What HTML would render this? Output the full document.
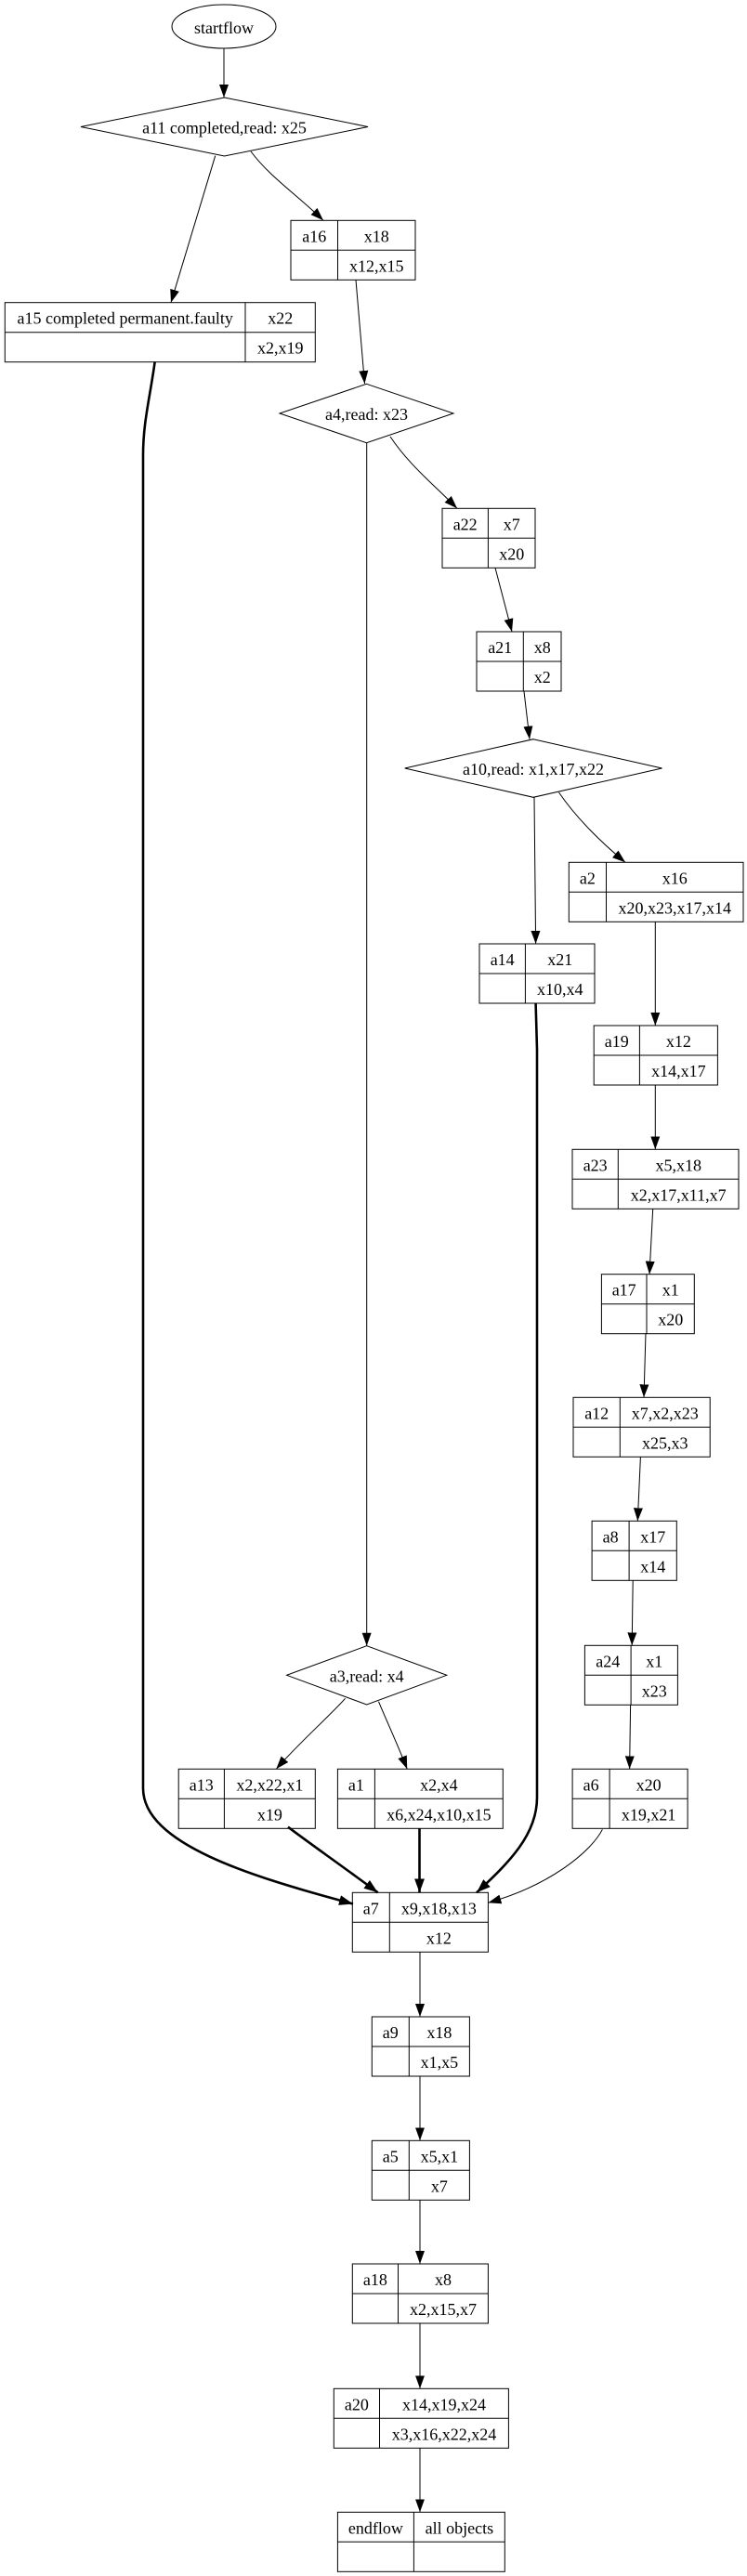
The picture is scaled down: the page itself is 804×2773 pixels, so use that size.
<!DOCTYPE html>
<html>
<head>
<meta charset="utf-8">
<style>
  html, body { margin: 0; padding: 0; background: #ffffff; }
  svg { display: block; }
  text { font-family: "Liberation Serif", "Times New Roman", serif; font-size: 18px; fill: #000; }
</style>
</head>
<body>
<svg xmlns="http://www.w3.org/2000/svg" width="804" height="2773" viewBox="0 0 804 2773">
  <defs>
    <marker id="ah" markerUnits="userSpaceOnUse" markerWidth="14" markerHeight="10" viewBox="0 0 14 10" refX="14" refY="5" orient="auto">
      <path d="M0,0 L14,5 L0,10 z" fill="#000"/>
    </marker>
    <marker id="ahb" markerUnits="userSpaceOnUse" markerWidth="15" markerHeight="11" viewBox="0 0 15 11" refX="15" refY="5.5" orient="auto">
      <path d="M0,0 L15,5.5 L0,11 z" fill="#000"/>
    </marker>
  </defs>
  <rect x="0" y="0" width="804" height="2773" fill="#fff"/>

  <!-- ===== Edges (thin) ===== -->
  <g fill="none" stroke="#000" stroke-width="1" marker-end="url(#ah)">
    <path d="M241,52 L241,105"/>
    <path d="M231.7,167.7 L184,325.7"/>
    <path d="M270,163 C290,190 320,210 348,237.3"/>
    <path d="M383,301.3 L392.5,413"/>
    <path d="M394.7,476.7 L394.7,1771.7"/>
    <path d="M420,470 C440,500 465,520 492,547.3"/>
    <path d="M533,611.3 L551,680"/>
    <path d="M564,744.3 L570,795.7"/>
    <path d="M575,858.3 L576.6,1016"/>
    <path d="M601.5,853 C620,880 645,905 673,928.3"/>
    <path d="M705.3,992.3 L705.3,1104"/>
    <path d="M705.3,1168.3 L705.3,1237.3"/>
    <path d="M702.7,1301.3 L699,1371.7"/>
    <path d="M695,1435 L693,1504.3"/>
    <path d="M689.4,1568.3 L686.3,1637.3"/>
    <path d="M681.2,1701.3 L680.2,1771.3"/>
    <path d="M678.6,1835.3 L677.6,1904.3"/>
    <path d="M371.6,1828.3 C356,1846 320,1878 297.3,1904.3"/>
    <path d="M407.5,1831.7 C415,1850 428,1878 438.2,1904.3"/>
    <path d="M648.4,1969.3 C635,1995 590,2030 525.4,2048.3"/>
    <path d="M452,2101.3 L452,2171"/>
    <path d="M452,2235.3 L452,2304.3"/>
    <path d="M452,2368.3 L452,2437"/>
    <path d="M452,2501.3 L452,2571.3"/>
    <path d="M452,2635.3 L452,2704.3"/>
  </g>

  <!-- ===== Edges (thick) ===== -->
  <g fill="none" stroke="#000" stroke-width="2.6" marker-end="url(#ahb)">
    <path d="M166.7,389.3 C161,430 154,455 154,490 L154,1925 C154,1985 270,2020 380,2049.5"/>
    <path d="M576.6,1080.3 L578,1130 L578,1935 C578,1975 548,2005 513,2037.3"/>
    <path d="M310,1966.7 C330,1982 370,2010 406.7,2037.3"/>
    <path d="M451.5,1968.3 L451.5,2037.3"/>
  </g>

  <!-- ===== startflow ===== -->
  <ellipse cx="241" cy="28.5" rx="56" ry="23.5" fill="none" stroke="#000" stroke-width="1"/>
  <text x="241" y="36" text-anchor="middle">startflow</text>

  <!-- ===== Diamonds ===== -->
  <g fill="#fff" stroke="#000" stroke-width="1">
    <polygon points="241.5,105 396,136.5 241.5,168 87,136.5"/>
    <polygon points="394.5,413.3 488,445 394.5,476.7 301,445"/>
    <polygon points="574,795.7 712.5,827 574,858.3 435.7,827"/>
    <polygon points="394.7,1771.7 480.8,1803.3 394.7,1835 308.6,1803.3"/>
  </g>
  <text x="241.5" y="143.5" text-anchor="middle">a11  completed,read: x25</text>
  <text x="394.5" y="452" text-anchor="middle">a4,read: x23</text>
  <text x="574" y="834" text-anchor="middle">a10,read: x1,x17,x22</text>
  <text x="394.7" y="1810.3" text-anchor="middle">a3,read: x4</text>

  <!-- ===== Record nodes ===== -->
  <g fill="none" stroke="#000" stroke-width="1">
    <!-- a16 -->
    <rect x="313" y="237.3" width="134" height="64"/><line x1="363.5" y1="237.3" x2="363.5" y2="301.3"/><line x1="313" y1="269.3" x2="447" y2="269.3"/>
    <!-- a15 -->
    <rect x="5.3" y="325.7" width="334" height="64"/><line x1="264" y1="325.7" x2="264" y2="389.7"/><line x1="5.3" y1="357.7" x2="339.3" y2="357.7"/>
    <!-- a22 -->
    <rect x="476" y="547.3" width="100" height="64"/><line x1="525.4" y1="547.3" x2="525.4" y2="611.3"/><line x1="476" y1="579.3" x2="576" y2="579.3"/>
    <!-- a21 -->
    <rect x="513" y="680" width="91" height="64"/><line x1="563.3" y1="680" x2="563.3" y2="744"/><line x1="513" y1="712" x2="604" y2="712"/>
    <!-- a2 -->
    <rect x="612.3" y="928.3" width="187.7" height="64"/><line x1="652.5" y1="928.3" x2="652.5" y2="992.3"/><line x1="612.3" y1="960.3" x2="800" y2="960.3"/>
    <!-- a14 -->
    <rect x="516" y="1016" width="124" height="64"/><line x1="565.4" y1="1016" x2="565.4" y2="1080"/><line x1="516" y1="1048" x2="640" y2="1048"/>
    <!-- a19 -->
    <rect x="639.2" y="1104" width="133.2" height="64"/><line x1="688.4" y1="1104" x2="688.4" y2="1168"/><line x1="639.2" y1="1136" x2="772.4" y2="1136"/>
    <!-- a23 -->
    <rect x="616" y="1237.3" width="179" height="64"/><line x1="665.3" y1="1237.3" x2="665.3" y2="1301.3"/><line x1="616" y1="1269.3" x2="795" y2="1269.3"/>
    <!-- a17 -->
    <rect x="647.4" y="1371.7" width="99.9" height="64"/><line x1="696" y1="1371.7" x2="696" y2="1435.7"/><line x1="647.4" y1="1403.7" x2="747.3" y2="1403.7"/>
    <!-- a12 -->
    <rect x="617" y="1504.3" width="147.2" height="64"/><line x1="667.3" y1="1504.3" x2="667.3" y2="1568.3"/><line x1="617" y1="1536.3" x2="764.2" y2="1536.3"/>
    <!-- a8 -->
    <rect x="637.1" y="1637.3" width="91.2" height="64"/><line x1="677.1" y1="1637.3" x2="677.1" y2="1701.3"/><line x1="637.1" y1="1669.3" x2="728.3" y2="1669.3"/>
    <!-- a24 -->
    <rect x="629.4" y="1771.3" width="100" height="64"/><line x1="679.1" y1="1771.3" x2="679.1" y2="1835.3"/><line x1="629.4" y1="1803.3" x2="729.4" y2="1803.3"/>
    <!-- a13 -->
    <rect x="192.2" y="1904.3" width="147.1" height="64"/><line x1="241.4" y1="1904.3" x2="241.4" y2="1968.3"/><line x1="192.2" y1="1936.3" x2="339.3" y2="1936.3"/>
    <!-- a1 -->
    <rect x="363.4" y="1904.3" width="177.9" height="64"/><line x1="403.4" y1="1904.3" x2="403.4" y2="1968.3"/><line x1="363.4" y1="1936.3" x2="541.3" y2="1936.3"/>
    <!-- a6 -->
    <rect x="616.1" y="1904.3" width="124" height="64"/><line x1="656.1" y1="1904.3" x2="656.1" y2="1968.3"/><line x1="616.1" y1="1936.3" x2="740.1" y2="1936.3"/>
    <!-- a7 -->
    <rect x="379.3" y="2037.3" width="146.1" height="64"/><line x1="419.3" y1="2037.3" x2="419.3" y2="2101.3"/><line x1="379.3" y1="2069.3" x2="525.4" y2="2069.3"/>
    <!-- a9 -->
    <rect x="400.3" y="2171" width="105.1" height="64"/><line x1="440.3" y1="2171" x2="440.3" y2="2235"/><line x1="400.3" y1="2203" x2="505.4" y2="2203"/>
    <!-- a5 -->
    <rect x="400.3" y="2304.3" width="105.1" height="64"/><line x1="440.3" y1="2304.3" x2="440.3" y2="2368.3"/><line x1="400.3" y1="2336.3" x2="505.4" y2="2336.3"/>
    <!-- a18 -->
    <rect x="379.3" y="2437" width="146.1" height="64"/><line x1="428.5" y1="2437" x2="428.5" y2="2501"/><line x1="379.3" y1="2469" x2="525.4" y2="2469"/>
    <!-- a20 -->
    <rect x="359.3" y="2571.3" width="188.1" height="64"/><line x1="408.5" y1="2571.3" x2="408.5" y2="2635.3"/><line x1="359.3" y1="2603.3" x2="547.4" y2="2603.3"/>
    <!-- endflow -->
    <rect x="363.4" y="2704.3" width="179.9" height="64"/><line x1="445.4" y1="2704.3" x2="445.4" y2="2768.3"/><line x1="363.4" y1="2736.3" x2="543.3" y2="2736.3"/>
  </g>

  <!-- ===== Record texts ===== -->
  <g text-anchor="middle">
    <text x="338.3" y="260.3">a16</text><text x="405.3" y="260.3">x18</text><text x="405.3" y="292.3">x12,x15</text>
    <text x="134.7" y="348.7">a15  completed permanent.faulty</text><text x="301.7" y="348.7">x22</text><text x="301.7" y="380.7">x2,x19</text>
    <text x="500.7" y="570.3">a22</text><text x="550.7" y="570.3">x7</text><text x="550.7" y="602.3">x20</text>
    <text x="538.2" y="703">a21</text><text x="583.7" y="703">x8</text><text x="583.7" y="735">x2</text>
    <text x="632.4" y="951.3">a2</text><text x="726.3" y="951.3">x16</text><text x="726.3" y="983.3">x20,x23,x17,x14</text>
    <text x="540.7" y="1039">a14</text><text x="602.7" y="1039">x21</text><text x="602.7" y="1071">x10,x4</text>
    <text x="663.8" y="1127">a19</text><text x="730.4" y="1127">x12</text><text x="730.4" y="1159">x14,x17</text>
    <text x="640.7" y="1260.3">a23</text><text x="730.2" y="1260.3">x5,x18</text><text x="730.2" y="1292.3">x2,x17,x11,x7</text>
    <text x="671.7" y="1394.7">a17</text><text x="721.7" y="1394.7">x1</text><text x="721.7" y="1426.7">x20</text>
    <text x="642.2" y="1527.3">a12</text><text x="715.8" y="1527.3">x7,x2,x23</text><text x="715.8" y="1559.3">x25,x3</text>
    <text x="657.1" y="1660.3">a8</text><text x="702.7" y="1660.3">x17</text><text x="702.7" y="1692.3">x14</text>
    <text x="654.3" y="1794.3">a24</text><text x="704.3" y="1794.3">x1</text><text x="704.3" y="1826.3">x23</text>
    <text x="216.8" y="1927.3">a13</text><text x="290.4" y="1927.3">x2,x22,x1</text><text x="290.4" y="1959.3">x19</text>
    <text x="383.4" y="1927.3">a1</text><text x="472.4" y="1927.3">x2,x4</text><text x="472.4" y="1959.3">x6,x24,x10,x15</text>
    <text x="636.1" y="1927.3">a6</text><text x="698.1" y="1927.3">x20</text><text x="698.1" y="1959.3">x19,x21</text>
    <text x="399.3" y="2060.3">a7</text><text x="472.4" y="2060.3">x9,x18,x13</text><text x="472.4" y="2092.3">x12</text>
    <text x="420.3" y="2194">a9</text><text x="472.9" y="2194">x18</text><text x="472.9" y="2226">x1,x5</text>
    <text x="420.3" y="2327.3">a5</text><text x="472.9" y="2327.3">x5,x1</text><text x="472.9" y="2359.3">x7</text>
    <text x="403.9" y="2460">a18</text><text x="477" y="2460">x8</text><text x="477" y="2492">x2,x15,x7</text>
    <text x="383.9" y="2594.3">a20</text><text x="478" y="2594.3">x14,x19,x24</text><text x="478" y="2626.3">x3,x16,x22,x24</text>
    <text x="404.4" y="2727.3">endflow</text><text x="494.4" y="2727.3">all objects</text>
  </g>
</svg>
</body>
</html>
